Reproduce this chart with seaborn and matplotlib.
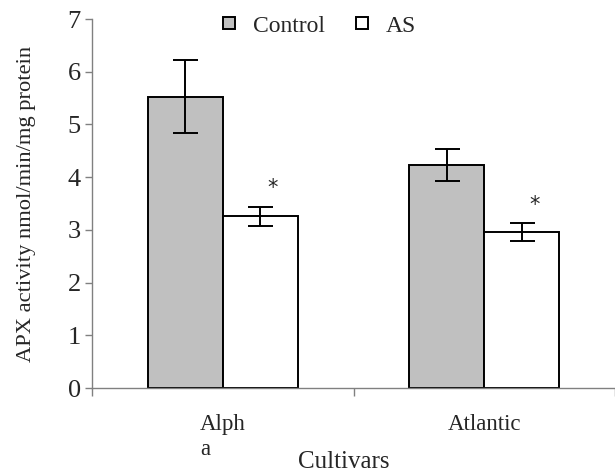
import matplotlib
matplotlib.use("Agg")
import matplotlib.pyplot as plt
from matplotlib.lines import Line2D
from matplotlib.ticker import FixedLocator
import pandas as pd
import seaborn as sns

cultivars = ["Alph\na", "Atlantic"]
treatments = ["Control", "AS"]
control_vals = [5.53, 4.23]
as_vals = [3.26, 2.96]
control_err = [0.69, 0.30]
as_err = [0.18, 0.165]

df = pd.DataFrame({
    "cultivar": cultivars * 2,
    "treatment": ["Control"] * 2 + ["AS"] * 2,
    "value": control_vals + as_vals,
    "err": control_err + as_err,
})

sns.set_theme(style="white")
plt.rcParams["font.family"] = ["Liberation Serif", "DejaVu Serif"]

fig = plt.figure(figsize=(6.15, 4.73), dpi=100)
ax = fig.add_axes([0.1496, 0.1797, 0.8504, 0.7801])

palette = {"Control": "#c0c0c0", "AS": "white"}
sns.barplot(data=df, x="cultivar", y="value", hue="treatment", order=cultivars,
            hue_order=treatments, palette=palette, width=0.575, gap=0,
            edgecolor="black", linewidth=1.4, errorbar=None, legend=False, ax=ax)

# error bars + significance stars from the drawn bars
for i, t in enumerate(treatments):
    cont = ax.containers[i]
    sub = df[df.treatment == t]
    xs = [b.get_x() + b.get_width() / 2 for b in cont]
    ax.errorbar(xs, sub["value"], yerr=sub["err"], fmt="none", ecolor="black",
                elinewidth=1.4, capsize=9, capthick=1.4, zorder=5)
    if t == "AS":
        for x, v, e in zip(xs, sub["value"], sub["err"]):
            ax.annotate("*", (x, v + e), xytext=(9, 6), textcoords="offset points",
                        ha="center", va="bottom", fontsize=15, family="DejaVu Sans")

ax.set_ylim(0, 7)
ax.set_xlim(-0.5, 1.5)
ax.set_yticks(range(0, 8))
ax.tick_params(axis="y", direction="out", length=5, width=1, color="#808080",
               labelsize=19, pad=3, left=True)
ax.tick_params(axis="x", which="major", length=0, labelsize=16.5, pad=19)
ax.xaxis.set_minor_locator(FixedLocator([-0.5, 0.5, 1.5]))
ax.tick_params(axis="x", which="minor", direction="out", length=6, width=1,
               color="#808080", bottom=True)
for lbl in ax.get_xticklabels():
    lbl.set_multialignment("left")

for s in ["top", "right"]:
    ax.spines[s].set_visible(False)
for s in ["left", "bottom"]:
    ax.spines[s].set_color("#808080")
    ax.spines[s].set_linewidth(1)

ax.set_xlabel("Cultivars", fontsize=18)
ax.xaxis.set_label_coords(0.482, -0.17)
ax.set_ylabel("APX activity nmol/min/mg protein", fontsize=16.2)
ax.yaxis.set_label_coords(-0.108, 0.5)

handles = [Line2D([], [], marker="s", linestyle="none", markersize=9,
                  markerfacecolor=palette[t], markeredgecolor="black",
                  markeredgewidth=1.4) for t in treatments]
ax.legend(handles, treatments, loc="upper center", bbox_to_anchor=(0.432, 1.068),
          ncol=2, frameon=False, fontsize=17, handletextpad=0.6,
          columnspacing=1.2, handlelength=0.8)

fig.savefig("out.png", dpi=100)
